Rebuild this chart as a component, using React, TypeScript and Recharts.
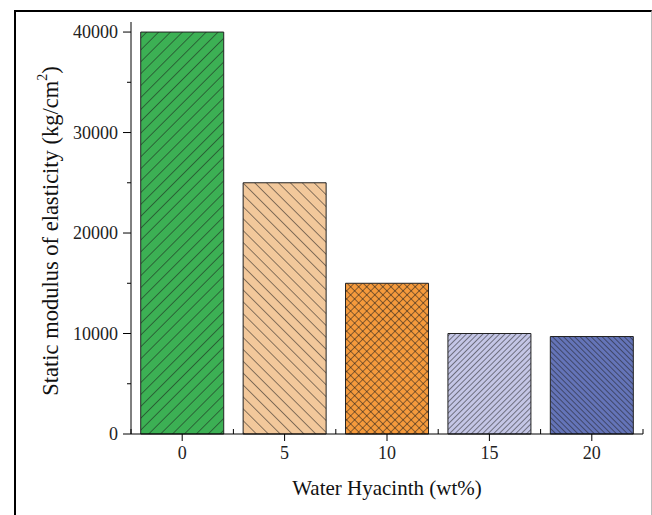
import { BarChart, Bar, XAxis, YAxis, Cell, Label } from "recharts"

const categories = ["0", "5", "10", "15", "20"]
const modulus = [40000, 25000, 15000, 10000, 9700]
const yTicks = [0, 5000, 10000, 15000, 20000, 25000, 30000, 35000, 40000]

const fills = ["#3cb054", "#f2c89b", "#f59a3c", "#c4c6e6", "#6474b8"]

const data = categories.map((c, i) => ({ name: c, value: modulus[i] }))

const W = 652
const H = 515
const LEFT = 131
const RIGHT = 643
const TOP = 22
const BOTTOM = 434
const Y_W = 60
const X_H = 62
const BAND = (RIGHT - LEFT) / categories.length
const FONT = "'Liberation Serif', 'Times New Roman', serif"

function YTick(props: any) {
  const { x, y, payload } = props
  const axisX = x + 5 + 8
  const major = payload.value % 10000 === 0
  return (
    <g>
      <line x1={axisX - (major ? 8 : 4)} x2={axisX} y1={y} y2={y} stroke="#000" strokeWidth={1} />
      {major && (
        <text x={x} y={y} dy={6} textAnchor="end" fontFamily={FONT} fontSize={18} fill="#222">
          {payload.value}
        </text>
      )}
    </g>
  )
}

function XTick(props: any) {
  const { x, y, payload, index } = props
  const axisY = y - 4 - 7
  return (
    <g>
      <line x1={x} x2={x} y1={axisY} y2={axisY + 7} stroke="#000" />
      <line x1={x + BAND / 2} x2={x + BAND / 2} y1={axisY} y2={axisY - 5} stroke="#000" />
      {index === 0 && <line x1={x - BAND / 2} x2={x - BAND / 2} y1={axisY} y2={axisY - 5} stroke="#000" />}
      <text x={x} y={y} dy={14} textAnchor="middle" fontFamily={FONT} fontSize={18} fill="#222">
        {payload.value}
      </text>
    </g>
  )
}

function YLabel(props: any) {
  const { viewBox } = props
  const cx = viewBox.x - 21
  const cy = viewBox.y + viewBox.height / 2 + 3
  return (
    <text
      x={cx}
      y={cy}
      transform={`rotate(-90, ${cx}, ${cy})`}
      textAnchor="middle"
      dominantBaseline="central"
      fontFamily={FONT}
      fontSize={22.5}
      fill="#111"
    >
      Static modulus of elasticity (kg/cm
      <tspan baselineShift="super" fontSize={14}>2</tspan>)
    </text>
  )
}

function XLabel(props: any) {
  const { viewBox } = props
  return (
    <text
      x={viewBox.x + viewBox.width / 2}
      y={viewBox.y + 61}
      textAnchor="middle"
      fontFamily={FONT}
      fontSize={21}
      fill="#111"
    >
      Water Hyacinth (wt%)
    </text>
  )
}

const hatches = [
  { id: "h0", angle: 45, gap: 8.4, cross: false },
  { id: "h1", angle: -45, gap: 8.4, cross: false },
  { id: "h2", angle: 45, gap: 5.7, cross: true },
  { id: "h3", angle: 45, gap: 3.9, cross: false },
  { id: "h4", angle: -45, gap: 3.9, cross: false },
]

export default function App() {
  return (
    <div style={{ position: "absolute", left: 0, top: 0, width: W, height: H, background: "#fff" }}>
      <div
        style={{
          position: "absolute",
          left: 14,
          top: 10,
          width: 635,
          height: H - 10,
          borderTop: "2px solid #000",
          borderLeft: "2px solid #000",
          borderRight: "1px solid #bbb",
        }}
      />
      <div style={{ position: "absolute", left: 0, top: 0 }}>
        <BarChart
          width={W}
          height={H}
          data={data}
          barCategoryGap="9.5%"
          margin={{ top: TOP, right: W - RIGHT, left: LEFT - Y_W, bottom: H - BOTTOM - X_H }}
        >
          <defs>
            {hatches.map((h, i) => (
              <pattern
                key={h.id}
                id={h.id}
                width={h.gap}
                height={h.gap}
                patternUnits="userSpaceOnUse"
                patternTransform={`rotate(${h.angle})`}
              >
                <rect width={h.gap} height={h.gap} fill={fills[i]} />
                <line x1={0} y1={0} x2={0} y2={h.gap} stroke="#1a1a1a" strokeWidth={1} />
                {h.cross && <line x1={0} y1={0} x2={h.gap} y2={0} stroke="#1a1a1a" strokeWidth={1} />}
              </pattern>
            ))}
          </defs>
          <XAxis
            dataKey="name"
            height={X_H}
            stroke="#000"
            tickLine={false}
            tickSize={7}
            tickMargin={4}
            tick={XTick}
            interval={0}
          >
            <Label content={XLabel} />
          </XAxis>
          <YAxis
            width={Y_W}
            domain={[0, 41000]}
            ticks={yTicks}
            interval={0}
            stroke="#000"
            tickLine={false}
            tickSize={8}
            tickMargin={5}
            tick={YTick}
          >
            <Label content={YLabel} />
          </YAxis>
          <Bar dataKey="value" stroke="#222" strokeWidth={1} isAnimationActive={false}>
            {data.map((d, i) => (
              <Cell key={d.name} fill={`url(#${hatches[i].id})`} />
            ))}
          </Bar>
        </BarChart>
      </div>
    </div>
  )
}
